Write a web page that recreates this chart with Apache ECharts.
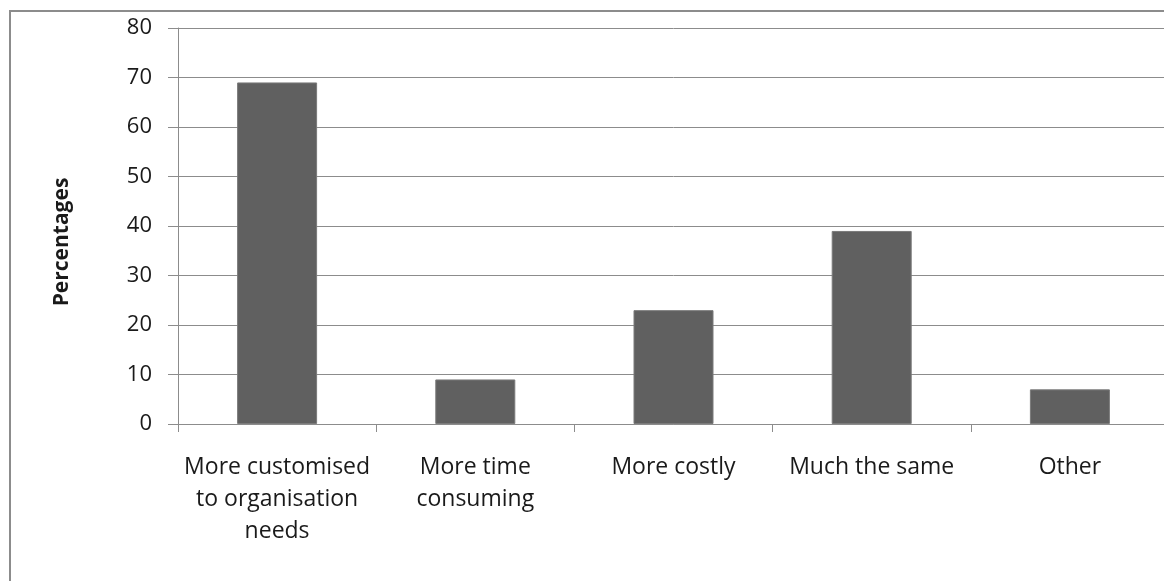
<!DOCTYPE html>
<html><head><meta charset="utf-8">
<script src="https://cdn.jsdelivr.net/npm/echarts@6/dist/echarts.min.js"></script>
<style>html,body{margin:0;padding:0;background:#fff;overflow:hidden}#c{width:1169px;height:581px}</style>
</head><body><div id="c"></div>
<script>
const categories = ['More customised\nto organisation\nneeds', 'More time\nconsuming', 'More costly', 'Much the same', 'Other'];
const values = [69, 9, 23, 39, 7];
const yTicks = [0, 10, 20, 30, 40, 50, 60, 70, 80];
const yTitle = 'Percentages';

const chart = echarts.init(document.getElementById('c'));
chart.setOption({
  animation: false,
  backgroundColor: '#fff',
  graphic: [{
    type: 'rect', shape: {x: 10, y: 11, width: 1200, height: 620},
    style: {fill: 'none', stroke: '#8c8c8c', lineWidth: 2}, silent: true
  }, {
    type: 'text', x: 62, y: 242, rotation: Math.PI / 2,
    style: {text: yTitle, fontFamily: 'Open Sans', fontWeight: 'bold', fontSize: 21,
      fill: '#1a1a1a', align: 'center', verticalAlign: 'middle'}
  }],
  grid: {left: 178, top: 28, right: 0, height: 396, containLabel: false},
  xAxis: {
    type: 'category', data: categories,
    axisLine: {lineStyle: {color: '#8c8c8c', width: 1}},
    axisTick: {show: true, length: 8, lineStyle: {color: '#8c8c8c'}},
    axisLabel: {color: '#1a1a1a', fontFamily: 'Open Sans', fontSize: 23, lineHeight: 32, margin: 27, interval: 0}
  },
  yAxis: {
    type: 'value', min: yTicks[0], max: yTicks[yTicks.length - 1], interval: 10,
    axisLine: {show: true, lineStyle: {color: '#8c8c8c'}},
    axisTick: {show: true, length: 10, inside: false, lineStyle: {color: '#8c8c8c'}},
    axisLabel: {color: '#1a1a1a', fontFamily: 'Open Sans', fontSize: 22, margin: 26},
    splitLine: {lineStyle: {color: '#8c8c8c', width: 1}}
  },
  series: [{
    type: 'bar', data: values, barWidth: 80,
    itemStyle: {color: '#606060', borderColor: '#7a7a7a', borderWidth: 1}
  }]
});
</script></body></html>
